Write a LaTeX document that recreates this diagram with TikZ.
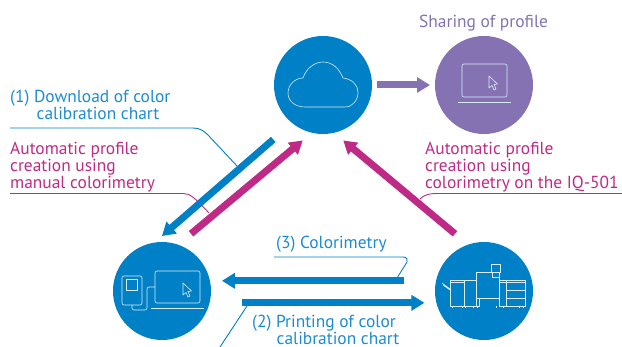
\documentclass[tikz,border=0pt]{standalone}
\usepackage{fontspec}
\setmainfont{PT Sans}
\usetikzlibrary{arrows.meta}
\definecolor{kmblue}{HTML}{0080C6}
\definecolor{kmtext}{HTML}{1C8CCF}
\definecolor{kmpink}{HTML}{BE2A85}
\definecolor{kmviolet}{HTML}{8472B3}
\tikzset{
  disc/.style={circle,fill=#1,minimum size=98pt,inner sep=0pt,outer sep=0pt},
  flow/.style={draw=#1,line width=7pt,-{Triangle[length=13pt,width=15pt]}},
  leader/.style={draw=#1,line width=0.9pt},
  icon/.style={draw=white!85!kmblue,line width=0.6pt,line join=round},
  caption/.style={anchor=north west,inner sep=0pt,align=left,font=\fontsize{17.4}{17}\selectfont,text=#1}
}
\newcommand{\mousearrow}[1]{\draw[icon] (#1) -- ++(0,12) -- ++(3,-2.5) -- ++(2,4.5) -- ++(2,-1) -- ++(-2,-4.5) -- ++(3.5,-.5) -- cycle;}
\begin{document}
\begin{tikzpicture}[x=1pt,y=-1pt]
\useasboundingbox (0,0) rectangle (622,347);

\node [disc=kmblue] (cloud) at (323,85) {};
\node [disc=kmviolet] (share) at (484,85) {};
\node [disc=kmblue] (pc) at (162,291) {};
\node [disc=kmblue] (press) at (484,291) {};

\coordinate (l1a) at (10,128);
\coordinate (l1b) at (237,166);
\coordinate (l2a) at (10,193.5);
\coordinate (l2b) at (209,213);
\coordinate (l3a) at (622,193.5);
\coordinate (l3b) at (420,199);
\coordinate (l4a) at (274,257);
\coordinate (l4b) at (397,278);
\coordinate (l5a) at (247,306);
\coordinate (l5b) at (220,347);

\draw [leader=kmblue] (l1a) -- (193,128) .. controls (200,128) and (204,131) .. (208,135) -- (l1b);
\draw [leader=kmpink] (l2a) -- (183,193.5) .. controls (190,193.5) and (194,197) .. (l2b);
\draw [leader=kmpink] (l3a) -- (436,193.5) .. controls (429,193.5) and (424,195) .. (l3b);
\draw [leader=kmblue] (l4a) -- (403,257) .. controls (407,257) and (408,260) .. (407,262) -- (l4b);
\draw [leader=kmblue] (l5a) -- (l5b);

\draw [flow=kmblue,shorten <=25pt,shorten >=10pt] (cloud.231) -- (pc.99);
\draw [flow=kmpink,shorten <=17pt,shorten >=12pt] (pc.71) -- (cloud.257);
\draw [flow=kmpink,shorten <=17pt,shorten >=12pt] (press.109) -- (cloud.283);
\draw [flow=kmviolet,shorten <=5pt,shorten >=5pt] (cloud.east) -- (share.west);
\draw [flow=kmblue,shorten <=32pt,shorten >=12pt] (press.168) -- (pc.12);
\draw [flow=kmblue,shorten <=32pt,shorten >=12pt] (pc.-14) -- (press.194);

\node [caption=kmviolet] (sharetxt) at (419,15) {Sharing of profile};
\node [caption=kmtext] (dltxt) at (10,90) {(1) Download of color\\\hspace*{26.5pt}calibration chart};
\node [caption=kmpink] (manualtxt) at (10,141.5) {Automatic profile\\creation using\\manual colorimetry};
\node [caption=kmpink] (iqtxt) at (425,141.5) {Automatic profile\\creation using\\colorimetry on the IQ-501};
\node [caption=kmtext] (measuretxt) at (276,236) {(3) Colorimetry};
\node [caption=kmtext] (printtxt) at (252,315) {(2) Printing of color\\\hspace*{24.5pt}calibration chart};

\draw [icon] (305,107) -- (345,107) .. controls (353,107) and (358,100) .. (358,92) .. controls (358,85) and (352,79) .. (343,78) .. controls (339,68) and (332,62) .. (323,62) .. controls (314,62) and (306,69) .. (303,78) .. controls (295,78) and (288,85) .. (288,93) .. controls (288,101) and (295,107) .. (305,107) -- cycle;

\draw [icon,rounded corners=2pt] (462,64) rectangle (507,97);
\draw [icon] (458,102) -- (511,102);
\mousearrow{489,76}

\draw [icon,rounded corners=2pt] (155,271) rectangle (200,303);
\draw [icon] (151,308) -- (204,308);
\mousearrow{183,283}
\draw [icon,rounded corners=2pt] (122,276) rectangle (142,305);
\draw [icon] (126,279) rectangle (137,290);
\draw [icon,rounded corners=2pt] (155,287) -- (147,287) -- (147,310) -- (132,310) -- (132,305);

\draw [icon] (450,280) rectangle (464,306);
\draw [icon] (464,280) rectangle (476,306);
\draw [icon] (476,272) rectangle (499,298);
\draw [icon] (476,298) -- (476,306) -- (479,306) -- (479,298);
\draw [icon] (491,264) rectangle (500,272);
\draw [icon] (492,272) rectangle (499,277);
\draw [icon] (499,280) rectangle (506,306);
\draw [icon] (506,280) rectangle (525,306);
\draw [icon] (506,290) -- (525,290);
\draw [icon] (506,298) -- (525,298);
\draw [icon] (450,282) -- (464,282) (499,282) -- (525,282);
\draw [icon] (442,283) -- (450,289) (443,285) -- (450,290);
\foreach \footx in {452,462,465,473,477,496,503,519,523}
  \draw [icon] (\footx,306) -- (\footx,308);
\end{tikzpicture}
\end{document}
